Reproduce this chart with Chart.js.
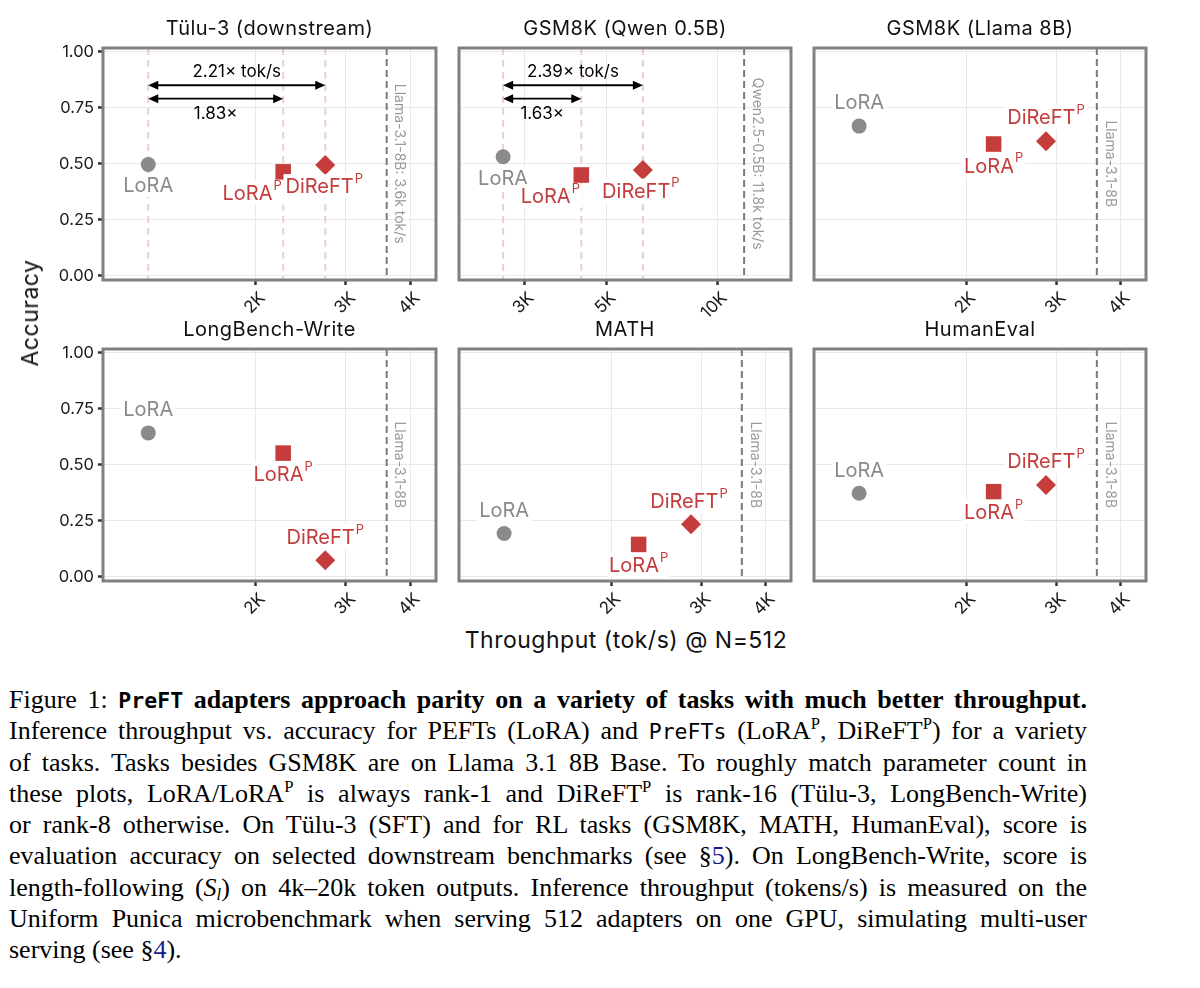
<!DOCTYPE html>
<html>
<head>
<meta charset="utf-8">
<title>PreFT throughput vs accuracy</title>
<script src="https://cdn.jsdelivr.net/npm/chart.js@4.4.1/dist/chart.umd.min.js"></script>
<style>
  html, body { margin: 0; padding: 0; background: #fff; }
  body { width: 1200px; height: 988px; position: relative; overflow: hidden; font-family: Inter, sans-serif; }
  canvas.panel { position: absolute; }
  .axis-title { position: absolute; font-size: 23px; letter-spacing: 0.5px; color: #111; white-space: nowrap; }
  #ytitle { left: 30px; top: 313px; transform: translate(-50%, -50%) rotate(-90deg); }
  #xtitle { left: 626px; top: 640px; transform: translate(-50%, -50%); }
  #caption { position: absolute; left: 9px; top: 684px; width: 1078px;
             font-family: "Liberation Serif", "Times New Roman", serif; font-size: 26px; color: #000; }
  #caption .ln { height: 31.3px; line-height: 31.3px; text-align: justify; text-align-last: justify; }
  #caption .ln.last { text-align-last: left; }
  #caption .mono { font-family: "DejaVu Sans Mono", monospace; font-size: 21.5px; }
  #caption sup, #caption sub { font-size: 0.64em; line-height: 0; position: relative; vertical-align: baseline; }
  #caption sup { top: -0.62em; }
  #caption sub { top: 0.25em; }
  #caption .ref { color: #1a1a8c; }
</style>
</head>
<body>

<canvas class="panel" id="p0"></canvas>
<canvas class="panel" id="p1"></canvas>
<canvas class="panel" id="p2"></canvas>
<canvas class="panel" id="p3"></canvas>
<canvas class="panel" id="p4"></canvas>
<canvas class="panel" id="p5"></canvas>

<div class="axis-title" id="ytitle">Accuracy</div>
<div class="axis-title" id="xtitle">Throughput (tok/s) @ N=512</div>

<div id="caption">
  <div class="ln">Figure 1: <b><span class="mono">PreFT</span> adapters approach parity on a variety of tasks with much better throughput.</b></div>
  <div class="ln">Inference throughput vs. accuracy for PEFTs (LoRA) and <span class="mono">PreFTs</span> (LoRA<sup>P</sup>, DiReFT<sup>P</sup>) for a variety</div>
  <div class="ln">of tasks. Tasks besides GSM8K are on Llama 3.1 8B Base. To roughly match parameter count in</div>
  <div class="ln">these plots, LoRA/LoRA<sup>P</sup> is always rank-1 and DiReFT<sup>P</sup> is rank-16 (Tülu-3, LongBench-Write)</div>
  <div class="ln">or rank-8 otherwise. On Tülu-3 (SFT) and for RL tasks (GSM8K, MATH, HumanEval), score is</div>
  <div class="ln">evaluation accuracy on selected downstream benchmarks (see §<span class="ref">5</span>). On LongBench-Write, score is</div>
  <div class="ln">length-following (<i>S<sub>l</sub></i>) on 4k–20k token outputs. Inference throughput (tokens/s) is measured on the</div>
  <div class="ln">Uniform Punica microbenchmark when serving 512 adapters on one GPU, simulating multi-user</div>
  <div class="ln last">serving (see §<span class="ref">4</span>).</div>
</div>

<script>
// ---- data ----
const panelTitles = ['Tülu-3 (downstream)', 'GSM8K (Qwen 0.5B)', 'GSM8K (Llama 8B)',
                     'LongBench-Write', 'MATH', 'HumanEval'];
const methodNames = ['LoRA', 'LoRA', 'DiReFT'];
const methodSups = ['', 'P', 'P'];

// throughput (tok/s) and accuracy, order: LoRA, LoRA^P, DiReFT^P
const tuluTok = [1237, 2264, 2734];
const tuluAcc = [0.497, 0.464, 0.494];
const qwenTok = [2632, 4283, 6283];
const qwenAcc = [0.531, 0.450, 0.472];
const llamaGsmTok = [1237, 2264, 2865];
const llamaGsmAcc = [0.668, 0.588, 0.600];
const longbenchTok = [1237, 2264, 2734];
const longbenchAcc = [0.642, 0.552, 0.075];
const mathTok = [1237, 2264, 2865];
const mathAcc = [0.194, 0.145, 0.235];
const humanevalTok = [1237, 2264, 2865];
const humanevalAcc = [0.373, 0.380, 0.410];

// base model throughput (dashed line) and its label
const baseTok = [3600, 11800, 3600, 3600, 3600, 3600];
const baseLabels = ['Llama-3.1-8B: 3.6k tok/s', 'Qwen2.5-0.5B: 11.8k tok/s', 'Llama-3.1-8B',
                    'Llama-3.1-8B', 'Llama-3.1-8B', 'Llama-3.1-8B'];

// speedup arrows (LoRA -> LoRA^P, LoRA -> DiReFT^P)
const tuluSpeedups = ['1.83×', '2.21× tok/s'];
const qwenSpeedups = ['1.63×', '2.39× tok/s'];

// tick labels
const llamaTicks = [2000, 3000, 4000];
const qwenTicks = [3000, 5000, 10000];
const accTicks = [0, 0.25, 0.5, 0.75, 1];

// ---- look ----
const GRAY = '#8a8a8a';
const RED = '#c43c3c';
const FONT = 'Inter, sans-serif';
const llamaRange = [1010, 4490];
const qwenRange = [2000, 15800];

// label offset from the point centre, px
const labelOffsets = [
  [[0, 21], [-31, 21], [-1, 21]],
  [[0, 21.5], [-31, 21], [-2, 20.5]],
  [[0, -24], [0, 21.5], [0, -24]],
  [[0, -24], [0, 21], [0, -23.5]],
  [[0, -23.5], [0, 20.5], [-2, -23]],
  [[0, -23.5], [0, 20], [0, -23.5]]
];

const colLeft = [103, 459, 814];
const colWidth = [334, 333, 333];
const rowTop = [48, 349];
const plotH = 232;
const padTop = 40, padBottom = 40, padRight = 10;

function drawLabel(ctx, base, sup, cx, cy, color) {
  ctx.font = '20px ' + FONT;
  const wb = ctx.measureText(base).width;
  ctx.font = '13px ' + FONT;
  const ws = sup ? ctx.measureText(sup).width + 1 : 0;
  const total = wb + ws;
  const x0 = cx - total / 2;
  ctx.fillStyle = '#fff';
  ctx.fillRect(x0 - 2, cy - 12, total + 4, 24);
  ctx.fillStyle = color;
  ctx.textAlign = 'left';
  ctx.textBaseline = 'middle';
  ctx.font = '20px ' + FONT;
  ctx.fillText(base, x0, cy + 1);
  if (sup) {
    ctx.font = '13px ' + FONT;
    ctx.fillText(sup, x0 + wb + 1, cy - 7);
  }
}

function arrow(ctx, xa, xb, yy) {
  const head = 10, half = 4.5;
  ctx.beginPath();
  ctx.moveTo(xa + head - 1, yy);
  ctx.lineTo(xb - head + 1, yy);
  ctx.stroke();
  ctx.beginPath();
  ctx.moveTo(xa, yy); ctx.lineTo(xa + head, yy - half); ctx.lineTo(xa + head, yy + half); ctx.closePath();
  ctx.fill();
  ctx.beginPath();
  ctx.moveTo(xb, yy); ctx.lineTo(xb - head, yy - half); ctx.lineTo(xb - head, yy + half); ctx.closePath();
  ctx.fill();
}

const panelDecor = {
  id: 'panelDecor',
  beforeDatasetsDraw(chart, args, o) {
    const { ctx, chartArea: a } = chart;
    const x = chart.scales.x, y = chart.scales.y;
    ctx.save();
    ctx.beginPath();
    ctx.rect(a.left, a.top, a.right - a.left, a.bottom - a.top);
    ctx.clip();
    ctx.lineWidth = 2;
    // faint guides at each method's throughput
    if (o.speedups) {
      ctx.strokeStyle = 'rgba(214,140,140,0.42)';
      ctx.setLineDash([7, 5]);
      o.tok.forEach(v => {
        const px = x.getPixelForValue(v);
        ctx.beginPath(); ctx.moveTo(px, a.top); ctx.lineTo(px, a.bottom); ctx.stroke();
      });
    }
    // base model line
    const bx = x.getPixelForValue(o.baseTok);
    ctx.strokeStyle = '#7a7a7a';
    ctx.setLineDash([7, 4]);
    ctx.beginPath(); ctx.moveTo(bx, a.top); ctx.lineTo(bx, a.bottom); ctx.stroke();
    ctx.setLineDash([]);
    ctx.save();
    ctx.translate(bx + 13, y.getPixelForValue(0.5));
    ctx.rotate(Math.PI / 2);
    ctx.font = '14px ' + FONT;
    ctx.fillStyle = '#9a9a9a';
    ctx.textAlign = 'center';
    ctx.textBaseline = 'middle';
    ctx.fillText(o.baseLabel, 0, 0);
    ctx.restore();
    // speedup arrows
    if (o.speedups) {
      ctx.strokeStyle = '#000';
      ctx.fillStyle = '#000';
      ctx.lineWidth = 1.8;
      ctx.font = '17px ' + FONT;
      ctx.textAlign = 'center';
      ctx.textBaseline = 'middle';
      const x0 = x.getPixelForValue(o.tok[0]);
      const xd = x.getPixelForValue(o.tok[2]);
      const xl = x.getPixelForValue(o.tok[1]);
      const yTop = y.getPixelForValue(0.85), yLow = y.getPixelForValue(0.79);
      arrow(ctx, x0, xd, yTop);
      arrow(ctx, x0, xl, yLow);
      ctx.fillText(o.speedups[1], (x0 + xd) / 2, yTop - 13);
      ctx.fillText(o.speedups[0], (x0 + xl) / 2, yLow + 15);
    }
    ctx.restore();
  },
  afterDatasetsDraw(chart, args, o) {
    const ctx = chart.ctx;
    ctx.save();
    chart.data.datasets.forEach((ds, i) => {
      const pt = chart.getDatasetMeta(i).data[0];
      const off = o.offsets[i];
      drawLabel(ctx, methodNames[i], methodSups[i], pt.x + off[0], pt.y + off[1], i === 0 ? GRAY : RED);
    });
    ctx.restore();
  },
  afterDraw(chart, args, o) {
    const { ctx, chartArea: a } = chart;
    ctx.save();
    ctx.strokeStyle = '#808080';
    ctx.lineWidth = 3;
    ctx.strokeRect(a.left, a.top, a.right - a.left, a.bottom - a.top);
    ctx.fillStyle = '#111';
    ctx.font = '20px ' + FONT;
    if ('letterSpacing' in ctx) ctx.letterSpacing = '0.5px';
    ctx.textAlign = 'center';
    ctx.textBaseline = 'middle';
    ctx.fillText(o.title, (a.left + a.right) / 2, a.top - 19);
    ctx.restore();
  }
};

function makePanel(idx, tok, acc, ticks, range, speedups) {
  const col = idx % 3, row = Math.floor(idx / 3);
  const padLeft = col === 0 ? 103 : 12;
  const w = padLeft + colWidth[col] + padRight;
  const h = padTop + plotH + padBottom;
  const cv = document.getElementById('p' + idx);
  cv.width = w; cv.height = h;
  cv.style.width = w + 'px'; cv.style.height = h + 'px';
  cv.style.left = (colLeft[col] - padLeft) + 'px';
  cv.style.top = (rowTop[row] - padTop) + 'px';

  const styles = [
    { pointStyle: 'circle', pointRadius: 7.5, color: GRAY },
    { pointStyle: 'rect', pointRadius: 11, color: RED },
    { pointStyle: 'rectRot', pointRadius: 10, color: RED }
  ];
  const datasets = styles.map((s, i) => ({
    label: methodNames[i] + methodSups[i],
    data: [{ x: tok[i], y: acc[i] }],
    pointStyle: s.pointStyle,
    pointRadius: s.pointRadius,
    pointHoverRadius: s.pointRadius,
    backgroundColor: s.color,
    borderColor: s.color,
    borderWidth: 0
  }));

  return new Chart(cv, {
    type: 'scatter',
    data: { datasets },
    options: {
      responsive: false,
      animation: false,
      devicePixelRatio: 1,
      layout: { padding: { top: padTop, right: padRight, left: 0, bottom: 0 } },
      plugins: {
        legend: { display: false },
        tooltip: { enabled: false },
        panelDecor: {
          title: panelTitles[idx],
          tok: tok,
          baseTok: baseTok[idx],
          baseLabel: baseLabels[idx],
          speedups: speedups,
          offsets: labelOffsets[idx]
        }
      },
      scales: {
        x: {
          type: 'logarithmic',
          min: range[0],
          max: range[1],
          afterBuildTicks: s => { s.ticks = ticks.map(v => ({ value: v })); },
          afterFit: s => { s.height = padBottom; },
          border: { display: false },
          grid: { color: '#e9e9e9', lineWidth: 1, drawTicks: true, tickLength: 5, tickColor: '#333', tickWidth: 2.5 },
          ticks: {
            autoSkip: false,
            minRotation: 45,
            maxRotation: 45,
            padding: 3,
            labelOffset: 7,
            color: '#1a1a1a',
            font: { family: FONT, size: 17 },
            callback: v => (v / 1000) + 'K'
          }
        },
        y: {
          type: 'linear',
          min: -0.018,
          max: 1.016,
          afterBuildTicks: s => { s.ticks = accTicks.map(v => ({ value: v })); },
          afterFit: s => { s.width = padLeft; },
          border: { display: false },
          grid: { color: '#e9e9e9', lineWidth: 1, drawTicks: col === 0, tickLength: 5, tickColor: '#333', tickWidth: 2.5 },
          ticks: {
            display: col === 0,
            padding: 4,
            color: '#1a1a1a',
            font: { family: FONT, size: 16.5 },
            callback: v => v.toFixed(2)
          }
        }
      }
    },
    plugins: [panelDecor]
  });
}

makePanel(0, tuluTok, tuluAcc, llamaTicks, llamaRange, tuluSpeedups);
makePanel(1, qwenTok, qwenAcc, qwenTicks, qwenRange, qwenSpeedups);
makePanel(2, llamaGsmTok, llamaGsmAcc, llamaTicks, llamaRange, null);
makePanel(3, longbenchTok, longbenchAcc, llamaTicks, llamaRange, null);
makePanel(4, mathTok, mathAcc, llamaTicks, llamaRange, null);
makePanel(5, humanevalTok, humanevalAcc, llamaTicks, llamaRange, null);
</script>
</body>
</html>
